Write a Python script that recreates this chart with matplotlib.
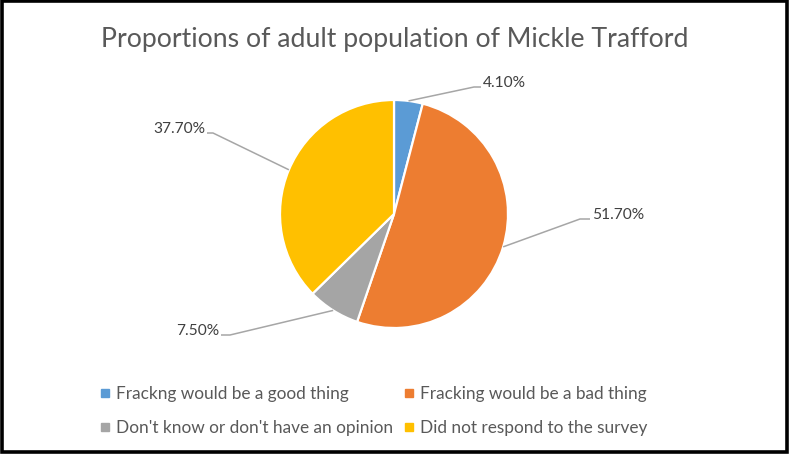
import matplotlib
matplotlib.use('Agg')
import matplotlib.pyplot as plt
from matplotlib.lines import Line2D
from matplotlib.patches import Rectangle
import numpy as np

plt.rcParams['font.family'] = ['Lato', 'DejaVu Sans']

categories = ['Frackng would be a good thing', 'Fracking would be a bad thing',
              "Don't know or don't have an opinion", 'Did not respond to the survey']
shares = [4.1, 51.7, 7.5, 37.7]
colors = ['#5B9BD5', '#ED7D31', '#A5A5A5', '#FFC000']
title = 'Proportions of adult population of Mickle Trafford'

W, H = 790, 455


def py(y_top):
    # pixel row counted from the top -> data y
    return H - y_top


# leader line layout (pixels from top-left): elbow and end of the short stub
label_elbows = [(474, 87), (580, 219), (230, 335), (213, 133)]
label_ends = [(481, 87), (590, 219), (221, 335), (207, 133)]

fig = plt.figure(figsize=(7.9, 4.55), dpi=100)
ax = fig.add_axes([0, 0, 1, 1])

cx, cy, r = 394, py(214), 114
wedges, _ = ax.pie(shares, colors=colors, startangle=90, counterclock=False,
                   center=(cx, cy), radius=r,
                   wedgeprops=dict(edgecolor='white', linewidth=1.6))
ax.set_xlim(0, W)
ax.set_ylim(0, H)
ax.axis('off')

# data labels with leader lines
for w, v, (ex, ey), (tx, ty) in zip(wedges, shares, label_elbows, label_ends):
    theta = np.deg2rad((w.theta1 + w.theta2) / 2)
    sx, sy = cx + r * np.cos(theta), cy + r * np.sin(theta)
    ax.plot([sx, ex, tx], [sy, py(ey), py(ty)], color='#A6A6A6', lw=1.1,
            solid_capstyle='butt')
    if tx > ex:
        ax.text(tx + 2, py(ty) + 4, f'{v:.2f}%', ha='left', va='center',
                fontsize=11.2, color='#404040')
    else:
        ax.text(tx - 2, py(ty) + 4, f'{v:.2f}%', ha='right', va='center',
                fontsize=11.2, color='#404040')

ax.text(395, py(39), title, ha='center', va='center', fontsize=19.2, color='#595959')

handles = [Line2D([], [], marker='s', ls='none', color=c, markersize=5.5) for c in colors]
order = [0, 2, 1, 3]
ax.legend([handles[i] for i in order], [categories[i] for i in order], ncol=2,
          loc='upper left', bbox_to_anchor=(100 / W, 1 - 386 / H),
          frameon=False, prop=dict(size=12.4), handlelength=0.6,
          handletextpad=0.35, columnspacing=0.6, labelspacing=1.05,
          borderpad=0, borderaxespad=0, labelcolor='#595959')

# black frame round the chart
ax.add_patch(Rectangle((1.5, 3), 785, 451, fill=False, edgecolor='black',
                       lw=2.6, clip_on=False))

fig.savefig('out.png', dpi=100)
